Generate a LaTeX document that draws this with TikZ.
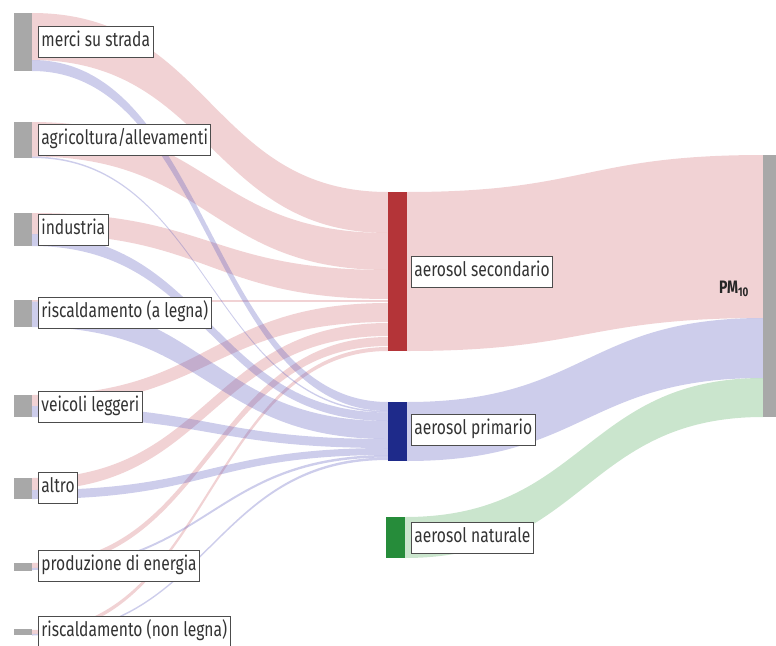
\documentclass[tikz,border=0pt]{standalone}
\usepackage{fontspec}
\setmainfont{Fira Sans}[FakeStretch=0.78]
\definecolor{barGray}{RGB}{168,168,168}
\definecolor{secRed}{RGB}{180,52,56}
\definecolor{priBlue}{RGB}{30,42,138}
\definecolor{natGreen}{RGB}{38,140,58}
\definecolor{flowRed}{RGB}{205,95,100}
\definecolor{flowBlue}{RGB}{90,90,190}
\definecolor{flowGreen}{RGB}{80,170,90}
\newcommand\sankeyband[7]{%
  \path[#1] (#2,#3) .. controls ({(#2+#5)/2},#3) and ({(#2+#5)/2},#6) .. (#5,#6)
    -- (#5,#7) .. controls ({(#2+#5)/2},#7) and ({(#2+#5)/2},#4) .. (#2,#4) -- cycle;}
\tikzset{
  redflow/.style={fill=flowRed, fill opacity=0.28},
  blueflow/.style={fill=flowBlue, fill opacity=0.3},
  greenflow/.style={fill=flowGreen, fill opacity=0.3},
  lbl/.style={draw=black!70, line width=0.8pt, fill=white, anchor=west,
    inner xsep=3pt, inner ysep=0pt, text height=14.5pt, text depth=5pt,
    minimum height=31pt, font=\fontsize{20}{22}\selectfont, text=black!80},
  bar/.style={inner sep=0pt, draw=none, anchor=north west, minimum width=18pt}
}
\begin{document}
\begin{tikzpicture}[x=1pt,y=-1pt]
\useasboundingbox (0,0) rectangle (776,645);
% flows sources -> aerosol secondario
\sankeyband{redflow}{32}{13}{60}{388}{192}{233}
\sankeyband{redflow}{32}{122}{156.5}{388}{233}{270}
\sankeyband{redflow}{32}{213}{234}{388}{270}{299}
\sankeyband{redflow}{32}{300}{301.5}{388}{300}{302}
\sankeyband{redflow}{32}{395}{406}{388}{303}{322}
\sankeyband{redflow}{32}{478}{490}{388}{323}{336}
\sankeyband{redflow}{32}{563}{568}{388}{337}{346}
\sankeyband{redflow}{32}{630}{634}{388}{347}{351}
% flows sources -> aerosol primario
\sankeyband{blueflow}{32}{60}{71}{388}{402}{411}
\sankeyband{blueflow}{32}{156.5}{158}{388}{411}{412.5}
\sankeyband{blueflow}{32}{234}{246}{388}{412.5}{421}
\sankeyband{blueflow}{32}{301.5}{327}{388}{421}{439}
\sankeyband{blueflow}{32}{406}{417}{388}{439}{448}
\sankeyband{blueflow}{32}{490}{499}{388}{448}{455}
\sankeyband{blueflow}{32}{568}{570}{388}{455}{457.5}
\sankeyband{blueflow}{32}{634}{635.5}{388}{457.5}{460}
% flows aerosol -> PM10
\sankeyband{redflow}{407}{192}{351}{763}{155}{318}
\sankeyband{blueflow}{407}{402}{461}{763}{318}{378}
\sankeyband{greenflow}{405}{517}{558}{763}{378}{417}
% source bars
\node[bar, fill=barGray, minimum height=58pt] (bmerci) at (14,13) {};
\node[bar, fill=barGray, minimum height=36pt] (bagri) at (14,122) {};
\node[bar, fill=barGray, minimum height=33pt] (bind) at (14,213) {};
\node[bar, fill=barGray, minimum height=27pt] (brisc) at (14,300) {};
\node[bar, fill=barGray, minimum height=22pt] (bveic) at (14,395) {};
\node[bar, fill=barGray, minimum height=21pt] (baltro) at (14,478) {};
\node[bar, fill=barGray, minimum height=8pt] (bprod) at (14,563) {};
\node[bar, fill=barGray, minimum height=6pt] (brnl) at (14,629) {};
% middle bars
\node[bar, fill=secRed, minimum width=19pt, minimum height=159pt] (bsec) at (388,192) {};
\node[bar, fill=priBlue, minimum width=19pt, minimum height=59pt] (bpri) at (388,402) {};
\node[bar, fill=natGreen, minimum width=19pt, minimum height=41pt] (bnat) at (386,517) {};
% PM10 bar
\node[bar, fill=barGray, minimum width=13pt, minimum height=262pt] (bpm) at (763,155) {};
% labels
\node[lbl] (lmerci) at (38,42) {merci su strada};
\node[lbl] (lagri) at (38,140) {agricoltura/allevamenti};
\node[lbl] (lind) at (38,230) {industria};
\node[lbl] (lrisc) at (38,313) {riscaldamento (a legna)};
\node[lbl] (lveic) at (38,407) {veicoli leggeri};
\node[lbl] (laltro) at (38,488) {altro};
\node[lbl] (lprod) at (38,566) {produzione di energia};
\node[lbl] (lrnl) at (38,632) {riscaldamento (non legna)};
\node[lbl] (lsec) at (411,272) {aerosol secondario};
\node[lbl] (lpri) at (411,430) {aerosol primario};
\node[lbl] (lnat) at (411,538) {aerosol naturale};
\node[font=\bfseries\fontsize{18}{20}\selectfont, text=black!85, inner sep=0pt] (lpm) at (734,289) {PM\textsubscript{10}};
\end{tikzpicture}
\end{document}
